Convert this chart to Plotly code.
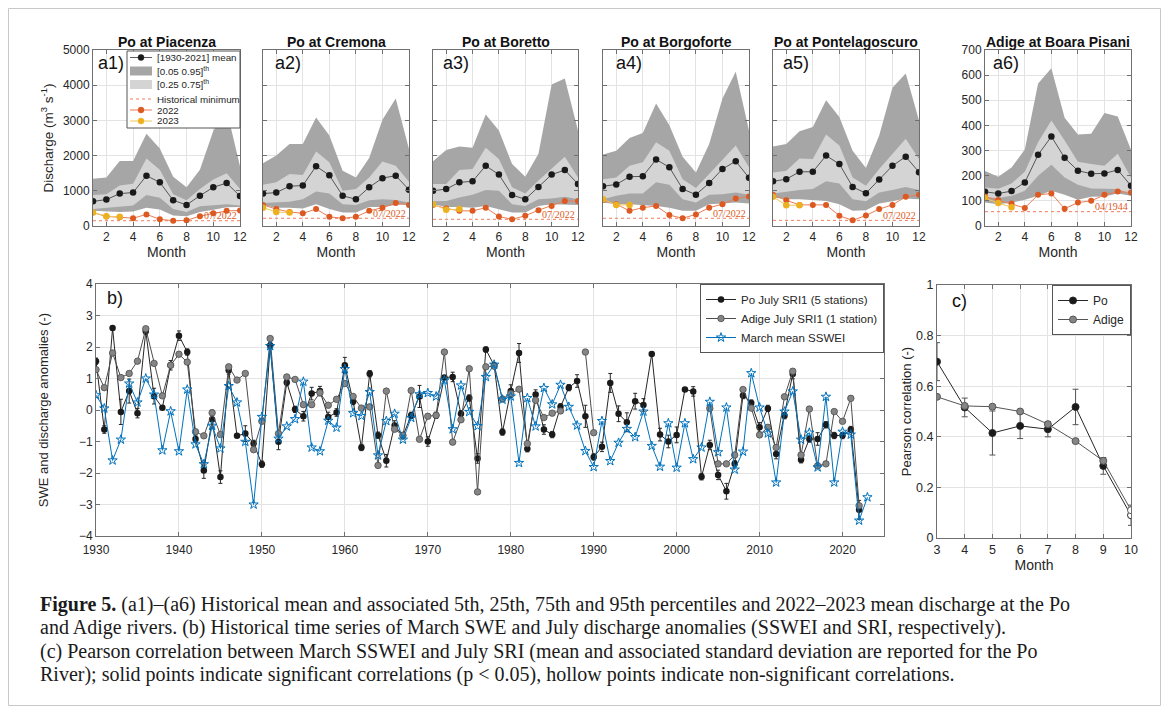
import plotly.graph_objects as go

# The page body has an 8 px default margin, so the figure is sized to fit the 1170x711 window.
OFF = 8
W, H = 1170 - OFF, 711 - OFF

# ---------------- data: panels a1-a6 (monthly discharge, m3/s) ----------------
MONTHS = list(range(1, 13))
MONTHS_2023 = [1, 2, 3]
MONTH_TICKS = [2, 4, 6, 8, 10, 12]

PIA_MEAN = [700, 750, 920, 950, 1430, 1240, 730, 600, 860, 1100, 1220, 850]
PIA_P95 = [1340, 1380, 1850, 1850, 2620, 2200, 1400, 1100, 1600, 2700, 3300, 1700]
PIA_P75 = [880, 900, 1150, 1200, 1920, 1600, 900, 730, 1050, 1320, 1500, 1050]
PIA_P25 = [480, 520, 560, 580, 880, 800, 480, 400, 560, 600, 620, 580]
PIA_P05 = [430, 410, 400, 410, 520, 470, 300, 280, 400, 460, 530, 540]
PIA_2022 = [380, 270, 250, 220, 330, 190, 150, 160, 280, 360, 430, 440]
PIA_2023 = [380, 280, 260]
PIA_MIN = 150

CRE_MEAN = [920, 950, 1130, 1150, 1700, 1440, 860, 760, 1100, 1360, 1430, 1030]
CRE_P95 = [1780, 2000, 2330, 2330, 3080, 2570, 1570, 1380, 1930, 3020, 3620, 2190]
CRE_P75 = [1170, 1240, 1480, 1450, 2120, 1810, 1000, 1050, 1380, 1830, 1710, 1260]
CRE_P25 = [650, 670, 690, 760, 980, 920, 620, 600, 730, 760, 740, 670]
CRE_P05 = [590, 520, 520, 500, 620, 480, 380, 380, 540, 540, 600, 620]
CRE_2022 = [600, 480, 400, 360, 480, 260, 220, 260, 430, 520, 650, 600]
CRE_2023 = [520, 400, 380]
CRE_MIN = 220

BOR_MEAN = [1000, 1050, 1240, 1270, 1710, 1460, 880, 760, 1110, 1460, 1590, 1190]
BOR_P95 = [1840, 2160, 2260, 2220, 3170, 2710, 1760, 1400, 2050, 4020, 4190, 2710]
BOR_P75 = [1190, 1190, 1590, 1620, 2220, 1900, 1100, 920, 1290, 1620, 1970, 1380]
BOR_P25 = [700, 710, 810, 890, 1020, 1000, 620, 570, 760, 780, 830, 760]
BOR_P05 = [620, 540, 540, 520, 570, 480, 380, 380, 570, 620, 620, 600]
BOR_2022 = [600, 500, 430, 430, 520, 270, 190, 290, 450, 570, 710, 710]
BOR_2023 = [620, 460, 480]
BOR_MIN = 190

BFO_MEAN = [1130, 1180, 1400, 1410, 1890, 1670, 1050, 890, 1220, 1620, 1840, 1370]
BFO_P95 = [2030, 2140, 2500, 2640, 3480, 2860, 1970, 1520, 2330, 3620, 4380, 2710]
BFO_P75 = [1330, 1380, 1710, 1810, 2380, 2140, 1330, 1080, 1480, 1900, 2290, 1670]
BFO_P25 = [760, 860, 920, 920, 1240, 1170, 760, 670, 890, 900, 950, 890]
BFO_P05 = [670, 620, 620, 600, 570, 520, 430, 430, 620, 640, 670, 640]
BFO_2022 = [740, 620, 430, 520, 570, 310, 220, 330, 520, 620, 780, 840]
BFO_2023 = [760, 600, 600]
BFO_MIN = 220

PON_MEAN = [1270, 1330, 1540, 1540, 2000, 1760, 1110, 930, 1320, 1710, 1970, 1530]
PON_P95 = [2260, 2330, 2690, 2810, 3570, 3100, 2140, 1650, 2570, 3930, 4330, 3000]
PON_P75 = [1520, 1570, 1920, 1900, 2600, 2290, 1380, 1140, 1620, 2050, 2480, 1900]
PON_P25 = [920, 980, 1020, 1050, 1270, 1210, 760, 700, 950, 1020, 1110, 1020]
PON_P05 = [810, 760, 760, 740, 710, 620, 430, 450, 640, 700, 780, 760]
PON_2022 = [890, 730, 600, 600, 600, 290, 160, 300, 480, 600, 830, 890]
PON_2023 = [830, 590, 590]
PON_MIN = 160

ADI_MEAN = [136, 129, 139, 173, 283, 356, 271, 220, 208, 209, 223, 160]
ADI_P95 = [219, 196, 233, 304, 567, 627, 431, 364, 367, 449, 436, 303]
ADI_P75 = [153, 148, 169, 216, 333, 420, 340, 256, 247, 240, 287, 193]
ADI_P25 = [113, 111, 120, 140, 200, 244, 193, 164, 149, 147, 147, 127]
ADI_P05 = [93, 87, 93, 104, 120, 140, 124, 104, 116, 117, 129, 120]
ADI_2022 = [117, 103, 89, 72, 124, 129, 69, 93, 100, 124, 137, 133]
ADI_2023 = [111, 91, 75]
ADI_MIN = 57

# ---------------- data: panel b (anomalies) ----------------
YEARS = list(range(1930, 2023))        # Po and Adige SRI
YEARS_SWE = list(range(1930, 2024))    # SSWEI
YEAR_TICKS = [1930, 1940, 1950, 1960, 1970, 1980, 1990, 2000, 2010, 2020]

PO_SRI = [1.55, -0.62, 2.6, -0.06, 0.6, -0.1, 2.5, 0.44, 0.07, 1.42,
          2.36, 1.84, -0.92, -1.92, -0.3, -2.13, 1.26, -0.82, -0.75, -1.06,
          -1.72, 2.05, -1.01, 0.87, 0.02, -0.2, 0.52, 0.6, -0.22, -0.08,
          1.42, 0.27, -1.19, 1.15, -0.8, -1.61, -0.49, -0.82, -0.17, 0.43,
          -1.0, -0.17, 1.03, 1.05, -0.12, 0.38, -1.54, 1.92, 1.42, -0.7,
          0.6, 1.81, -1.23, 0.49, -0.62, -0.78, 0.1, 0.71, 0.92, -0.2,
          -1.49, -1.17, 0.86, -0.12, -0.39, 0.28, 0.16, 1.78, -0.78, -1.0,
          -0.79, 0.65, 0.59, -2.12, -1.11, -2.06, -2.58, -1.71, 0.46, 0.22,
          -0.55, 0.05, -1.4, -0.18, 1.14, -1.58, -0.92, -0.92, -0.47, -0.81,
          -0.81, -0.62, -3.17]
PO_SRI_SD = [0.1, 0.12, 0.05, 0.4, 0.38, 0.15, 0.1, 0.25, 0.05, 0.15,
             0.15, 0.1, 0.1, 0.25, 0.3, 0.2, 0.12, 0.05, 0.25, 0.1,
             0.1, 0.1, 0.25, 0.1, 0.1, 0.15, 0.2, 0.15, 0.15, 0.12,
             0.25, 0.1, 0.1, 0.1, 0.1, 0.2, 0.15, 0.1, 0.1, 0.35,
             0.15, 0.1, 0.05, 0.15, 0.1, 0.1, 0.15, 0.08, 0.05, 0.1,
             0.2, 0.3, 0.1, 0.15, 0.15, 0.1, 0.1, 0.1, 0.2, 0.35,
             0.1, 0.15, 0.3, 0.25, 0.3, 0.25, 0.2, 0.05, 0.2, 0.2,
             0.25, 0.05, 0.15, 0.1, 0.15, 0.15, 0.25, 0.1, 0.1, 0.1,
             0.15, 0.1, 0.15, 0.1, 0.15, 0.1, 0.1, 0.2, 0.1, 0.1,
             0.1, 0.1, 0.3]
ADIGE_SRI = [1.28, 0.71, 1.81, 1.03, 1.16, 1.55, 2.58, 1.48, 0.45, 1.42,
             1.77, 1.52, -0.69, -0.82, -0.09, -0.78, 1.37, 0.95, 1.16, -1.26,
             -0.36, 2.27, -0.75, 1.05, 0.97, 0.17, 0.17, 0.55, 0.15, 0.34,
             0.84, 0.43, 0.06, 0.1, -1.76, 0.6, -0.61, -0.8, 0.62, -0.93,
             -0.2, -0.17, 1.84, -1.02, -0.31, 1.31, -2.6, 1.37, 1.39, 0.35,
             0.52, 0.66, -1.07, 0.31, -0.24, -0.1, -0.03, None, None, 1.84,
             -0.72, None, None, None, None, None, None, None, None, None,
             None, None, None, None, 0.05, -1.71, -1.71, -1.43, 0.65, 0.06,
             -0.79, -0.55, -1.19, 0.42, 1.23, -1.43, 0.03, -1.77, -1.71, -0.05,
             -0.36, 0.37, -3.04]
SSWEI = [0.47, 0.05, -1.6, -0.94, 0.84, 0.24, 1.0, 0.49, -1.28, -0.04,
         -1.31, 0.65, -1.09, -1.72, -0.5, -1.22, 0.76, 0.24, -1.01, -3.0,
         -0.22, 2.03, -0.91, -0.52, -0.29, 0.9, -1.19, -1.31, -0.34, -0.56,
         1.3, -0.1, -0.19, 0.57, -1.44, -0.35, -0.12, -0.94, -0.25, 0.5,
         0.54, 0.43, 0.94, -0.61, 0.78, -0.06, -0.51, 1.05, 1.44, 0.33,
         0.43, -1.68, 0.38, -0.52, 0.7, 0.18, 0.8, 0.1, -0.49, -1.3,
         -1.81, -0.35, -1.62, -1.04, -0.6, -0.86, -0.05, -1.14, -1.8, -0.42,
         -1.83, -0.42, -1.56, -1.19, 0.26, -1.34, 0.08, -1.89, -1.32, 1.17,
         0.08, -0.74, -2.3, -0.05, 0.59, -0.94, -0.72, -1.82, 0.42, -2.3,
         -0.69, -0.78, -3.51, -2.77]

# ---------------- data: panel c (Pearson correlation) ----------------
MONTHS_C = [3, 4, 5, 6, 7, 8, 9, 10]
PO_R = [0.697, 0.516, 0.415, 0.443, 0.43, 0.518, 0.285, 0.09]
PO_R_SD = [0.075, 0.037, 0.087, 0.05, 0.03, 0.07, 0.033, 0.04]
ADIGE_R = [0.558, 0.522, 0.519, 0.5, 0.45, 0.383, 0.305, 0.11]
SIGNIF = [True, True, True, True, True, True, True, False]

STATIONS = [
    dict(title="Po at Piacenza", tag="a1)", mean=PIA_MEAN, p95=PIA_P95, p75=PIA_P75, p25=PIA_P25,
         p05=PIA_P05, y22=PIA_2022, y23=PIA_2023, hmin=PIA_MIN, hlab="07/2022"),
    dict(title="Po at Cremona", tag="a2)", mean=CRE_MEAN, p95=CRE_P95, p75=CRE_P75, p25=CRE_P25,
         p05=CRE_P05, y22=CRE_2022, y23=CRE_2023, hmin=CRE_MIN, hlab="07/2022"),
    dict(title="Po at Boretto", tag="a3)", mean=BOR_MEAN, p95=BOR_P95, p75=BOR_P75, p25=BOR_P25,
         p05=BOR_P05, y22=BOR_2022, y23=BOR_2023, hmin=BOR_MIN, hlab="07/2022"),
    dict(title="Po at Borgoforte", tag="a4)", mean=BFO_MEAN, p95=BFO_P95, p75=BFO_P75, p25=BFO_P25,
         p05=BFO_P05, y22=BFO_2022, y23=BFO_2023, hmin=BFO_MIN, hlab="07/2022"),
    dict(title="Po at Pontelagoscuro", tag="a5)", mean=PON_MEAN, p95=PON_P95, p75=PON_P75, p25=PON_P25,
         p05=PON_P05, y22=PON_2022, y23=PON_2023, hmin=PON_MIN, hlab="07/2022"),
    dict(title="Adige at Boara Pisani", tag="a6)", mean=ADI_MEAN, p95=ADI_P95, p75=ADI_P75, p25=ADI_P25,
         p05=ADI_P05, y22=ADI_2022, y23=ADI_2023, hmin=ADI_MIN, hlab="04/1944"),
]

# ---------------- style / geometry ----------------
FONT = "Liberation Sans"
SERIF = "Liberation Serif"
TXT = "#262626"
AXC = "#707070"
GRID = "#e3e3e3"
DARK = "#a6a6a6"
LIGHT = "#d4d4d4"
C22 = "#dc5a22"
C22L = "#ea7d55"
C23 = "#edb120"
C23L = "#f2c65a"
MINC = "#f47a5c"
BLUE = "#0072bd"

# window-pixel geometry of panels (left, right) / (left, right, top, bottom)
A_BOXES = [(93, 240), (263, 409), (433, 578), (603, 749), (773, 919), (985, 1131)]
A_TOP, A_BOT = 50, 226
TAG_X = [98, 275, 443, 616, 783, 993]
B_BOX = (96, 884, 284, 536)
C_BOX = (937, 1131, 285, 538)


def px(x):
    return (x - OFF) / W


def py(y):
    return 1 - (y - OFF) / H


def ax_base(**kw):
    d = dict(showline=True, linecolor=AXC, linewidth=1, mirror="ticks", ticks="inside",
             ticklen=4, tickcolor=AXC, showgrid=True, gridcolor=GRID, gridwidth=1,
             zeroline=False, automargin=False, tickfont=dict(family=FONT, size=12, color=TXT))
    d.update(kw)
    return d


fig = go.Figure()
layout = {}
annotations = []
shapes = []

# ---------------- panels a1-a6 ----------------
for i, st in enumerate(STATIONS):
    k = i + 1
    xa = "x" if k == 1 else f"x{k}"
    ya = "y" if k == 1 else f"y{k}"
    common = dict(xaxis=xa, yaxis=ya, showlegend=False, hoverinfo="skip")
    fig.add_trace(go.Scatter(x=MONTHS, y=st["p05"], mode="lines", line=dict(width=0), **common))
    fig.add_trace(go.Scatter(x=MONTHS, y=st["p95"], mode="lines", line=dict(width=0),
                             fill="tonexty", fillcolor=DARK, **common))
    fig.add_trace(go.Scatter(x=MONTHS, y=st["p25"], mode="lines", line=dict(width=0), **common))
    fig.add_trace(go.Scatter(x=MONTHS, y=st["p75"], mode="lines", line=dict(width=0),
                             fill="tonexty", fillcolor=LIGHT, **common))
    fig.add_trace(go.Scatter(x=[MONTHS[0], MONTHS[-1]], y=[st["hmin"], st["hmin"]], mode="lines",
                             line=dict(color=MINC, width=1, dash="dot"), **common))
    fig.add_trace(go.Scatter(x=MONTHS, y=st["mean"], mode="lines+markers",
                             line=dict(color="#333333", width=0.8),
                             marker=dict(color="#1a1a1a", size=6.5), **common))
    fig.add_trace(go.Scatter(x=MONTHS, y=st["y22"], mode="lines+markers",
                             line=dict(color=C22L, width=1),
                             marker=dict(color=C22, size=6), **common))
    fig.add_trace(go.Scatter(x=MONTHS_2023, y=st["y23"], mode="lines+markers",
                             line=dict(color=C23L, width=1),
                             marker=dict(color=C23, size=6.5), **common))

    x0, x1 = A_BOXES[i]
    is_adige = (k == 6)
    layout["xaxis" if k == 1 else f"xaxis{k}"] = ax_base(
        domain=[px(x0), px(x1)], anchor=ya, range=[1, 12], tickvals=MONTH_TICKS,
        title=dict(text="Month", font=dict(family=FONT, size=14, color=TXT), standoff=0))
    yax = ax_base(
        domain=[py(A_BOT), py(A_TOP)], anchor=xa,
        range=[0, 700] if is_adige else [0, 5000],
        dtick=100 if is_adige else 1000, tick0=0,
        showticklabels=(k in (1, 6)))
    if k == 1:
        yax["title"] = dict(text="Discharge (m<sup>3</sup> s<sup>-1</sup>)",
                            font=dict(family=FONT, size=13.5, color=TXT), standoff=6)
    layout["yaxis" if k == 1 else f"yaxis{k}"] = yax
    # title
    annotations.append(dict(text=f"<b>{st['title']}</b>", xref="paper", yref="paper",
                            x=px((x0 + x1) / 2), y=py(42), xanchor="center", yanchor="middle",
                            showarrow=False, font=dict(family=FONT, size=14, color="#111111")))
    # panel tag
    annotations.append(dict(text=st["tag"], xref="paper", yref="paper", x=px(TAG_X[i] - 2), y=py(63),
                            xanchor="left", yanchor="middle", showarrow=False,
                            font=dict(family=FONT, size=18, color="#111111")))
    # historical minimum label
    annotations.append(dict(text=st["hlab"], xref=xa, yref=ya, x=12, y=st["hmin"], xanchor="right",
                            yanchor="middle", yshift=5, xshift=-1, showarrow=False,
                            font=dict(family=SERIF, size=10, color=C22)))

# ---------------- legend of panel a1 (drawn) ----------------
LX0, LX1, LY0, LY1 = 127, 240, 51, 128
shapes.append(dict(type="rect", xref="paper", yref="paper", x0=px(LX0), x1=px(LX1), y0=py(LY1), y1=py(LY0),
                   line=dict(color="#555555", width=1), fillcolor="white", layer="above"))
SX0, SX1, SXC, TX = 130, 152, 141, 155
rows = [57.5, 71, 84.5, 99, 110, 121]
labels_a = ["[1930-2021] mean", "[0.05 0.95]<sup>th</sup>", "[0.25 0.75]<sup>th</sup>",
            "Historical minimum", "2022", "2023"]


def hline(y, color, width=1, dash="solid"):
    shapes.append(dict(type="line", xref="paper", yref="paper", x0=px(SX0), x1=px(SX1), y0=py(y), y1=py(y),
                       line=dict(color=color, width=width, dash=dash), layer="above"))


def dot(y, color, r=3):
    shapes.append(dict(type="circle", xref="paper", yref="paper", x0=px(SXC - r), x1=px(SXC + r),
                       y0=py(y + r), y1=py(y - r), line=dict(color=color, width=0.5), fillcolor=color,
                       layer="above"))


def box(y, color):
    shapes.append(dict(type="rect", xref="paper", yref="paper", x0=px(SX0), x1=px(SX1),
                       y0=py(y + 4.5), y1=py(y - 4.5), line=dict(width=0), fillcolor=color, layer="above"))


hline(rows[0], "#333333", 0.8)
dot(rows[0], "#1a1a1a")
box(rows[1], DARK)
box(rows[2], LIGHT)
hline(rows[3], MINC, 1, "dot")
hline(rows[4], C22L, 1)
dot(rows[4], C22)
hline(rows[5], C23L, 1)
dot(rows[5], C23)
for yy, lab in zip(rows, labels_a):
    annotations.append(dict(text=lab, xref="paper", yref="paper", x=px(TX), y=py(yy), xanchor="left",
                            yanchor="middle", showarrow=False, font=dict(family=FONT, size=9.8, color=TXT)))

# ---------------- panel b ----------------
fig.add_trace(go.Scatter(x=YEARS, y=PO_SRI, mode="lines+markers", name="Po July SRI1 (5 stations)",
                         xaxis="x7", yaxis="y7", legend="legend",
                         line=dict(color="#262626", width=1),
                         marker=dict(color="#1a1a1a", size=6.5),
                         error_y=dict(type="data", array=PO_SRI_SD, color="#262626", thickness=1, width=2)))
fig.add_trace(go.Scatter(x=YEARS, y=ADIGE_SRI, mode="lines+markers", name="Adige July SRI1 (1 station)",
                         xaxis="x7", yaxis="y7", legend="legend", connectgaps=False,
                         line=dict(color="#4d4d4d", width=1),
                         marker=dict(color="#858585", size=6.5, line=dict(color="#4d4d4d", width=0.8))))
fig.add_trace(go.Scatter(x=YEARS_SWE, y=SSWEI, mode="lines+markers", name="March mean SSWEI",
                         xaxis="x7", yaxis="y7", legend="legend",
                         line=dict(color=BLUE, width=1),
                         marker=dict(color=BLUE, size=7, symbol="star-open", line=dict(width=1))))
layout["xaxis7"] = ax_base(domain=[px(B_BOX[0]), px(B_BOX[1])], anchor="y7", range=[1930, 2025],
                           tickvals=YEAR_TICKS, ticklabelstandoff=3)
layout["yaxis7"] = ax_base(domain=[py(B_BOX[3]), py(B_BOX[2])], anchor="x7", range=[-4, 4], dtick=1,
                           title=dict(text="SWE and discharge anomalies (-)",
                                      font=dict(family=FONT, size=13, color=TXT), standoff=27))
annotations.append(dict(text="b)", xref="paper", yref="paper", x=px(105), y=py(298), xanchor="left",
                        yanchor="middle", showarrow=False, font=dict(family=FONT, size=18, color="#111111")))

# ---------------- panel c ----------------
po_fill = ["#1a1a1a" if s else "white" for s in SIGNIF]
ad_fill = ["#858585" if s else "white" for s in SIGNIF]
fig.add_trace(go.Scatter(x=MONTHS_C, y=PO_R, mode="lines+markers", name="Po", xaxis="x8", yaxis="y8",
                         legend="legend2", line=dict(color="#262626", width=1),
                         marker=dict(color=po_fill, size=7, line=dict(color="#262626", width=1)),
                         error_y=dict(type="data", array=PO_R_SD, color="#555555", thickness=1, width=3)))
fig.add_trace(go.Scatter(x=MONTHS_C, y=ADIGE_R, mode="lines+markers", name="Adige", xaxis="x8", yaxis="y8",
                         legend="legend2", line=dict(color="#555555", width=1),
                         marker=dict(color=ad_fill, size=7, line=dict(color="#555555", width=1))))
layout["xaxis8"] = ax_base(domain=[px(C_BOX[0]), px(C_BOX[1])], anchor="y8", range=[3, 10], dtick=1,
                           tickfont=dict(family=FONT, size=12.5, color=TXT),
                           title=dict(text="Month", font=dict(family=FONT, size=14, color=TXT), standoff=0))
layout["yaxis8"] = ax_base(domain=[py(C_BOX[3]), py(C_BOX[2])], anchor="x8", range=[0, 1], dtick=0.2,
                           tickvals=[0, 0.2, 0.4, 0.6, 0.8, 1], ticktext=["0", "0.2", "0.4", "0.6", "0.8", "1"],
                           tickfont=dict(family=FONT, size=12.5, color=TXT),
                           title=dict(text="Pearson correlation (-)", font=dict(family=FONT, size=13, color=TXT),
                                      standoff=1))
annotations.append(dict(text="c)", xref="paper", yref="paper", x=px(950), y=py(301), xanchor="left",
                        yanchor="middle", showarrow=False, font=dict(family=FONT, size=18, color="#111111")))

# ---------------- caption ----------------
CAPTION = [
    "<b>Figure 5.</b> (a1)–(a6) Historical mean and associated 5th, 25th, 75th and 95th percentiles and 2022–2023 mean discharge at the Po",
    "and Adige rivers. (b) Historical time series of March SWE and July discharge anomalies (SSWEI and SRI, respectively).",
    "(c) Pearson correlation between March SSWEI and July SRI (mean and associated standard deviation are reported for the Po",
    "River); solid points indicate significant correlations (p &lt; 0.05), hollow points indicate non-significant correlations.",
]
for j, line in enumerate(CAPTION):
    annotations.append(dict(text=line, xref="paper", yref="paper", x=px(38), y=py(604 + 23.5 * j),
                            xanchor="left", yanchor="middle", showarrow=False,
                            font=dict(family=SERIF, size=20, color="#1a1a1a")))

# outer frame
shapes.append(dict(type="rect", xref="paper", yref="paper", x0=px(8.5), x1=px(1160.5), y0=py(705.5), y1=py(8.5),
                   line=dict(color="#c8c8c8", width=1), fillcolor="rgba(0,0,0,0)", layer="below"))

layout.update(dict(
    width=W, height=H, margin=dict(l=0, r=0, t=0, b=0, autoexpand=False),
    paper_bgcolor="white", plot_bgcolor="white",
    font=dict(family=FONT, color=TXT),
    annotations=annotations, shapes=shapes,
    legend=dict(x=px(B_BOX[1]), y=py(B_BOX[2]), xanchor="right", yanchor="top", traceorder="normal",
                bgcolor="white", bordercolor="#555555", borderwidth=1,
                font=dict(family=FONT, size=11.5, color=TXT), tracegroupgap=0),
    legend2=dict(x=px(C_BOX[1]), y=py(C_BOX[2]), xanchor="right", yanchor="top", traceorder="normal",
                 bgcolor="white", bordercolor="#555555", borderwidth=1,
                 font=dict(family=FONT, size=12, color=TXT), tracegroupgap=0),
))
fig.update_layout(**layout)

fig.write_html("out.html")
